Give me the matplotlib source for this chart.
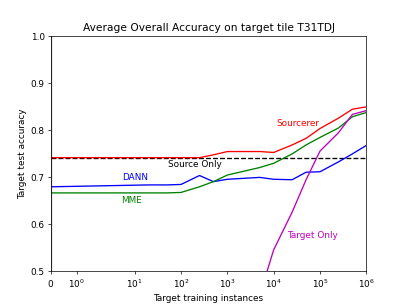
import matplotlib
matplotlib.use("Agg")
import matplotlib.pyplot as plt
import numpy as np

instances = [0, 20, 50, 100, 250, 500, 1000, 5000, 10000, 25000, 50000,
             100000, 250000, 500000, 1000000]
sourcerer = [0.742, 0.742, 0.742, 0.742, 0.742, 0.748, 0.755, 0.755, 0.753,
             0.769, 0.783, 0.804, 0.826, 0.845, 0.850]
dann = [0.680, 0.684, 0.684, 0.685, 0.704, 0.691, 0.696, 0.700, 0.696,
        0.695, 0.711, 0.712, 0.733, 0.750, 0.768]
mme = [0.667, 0.667, 0.667, 0.668, 0.680, 0.691, 0.705, 0.721, 0.730,
       0.750, 0.769, 0.785, 0.805, 0.829, 0.838]
target_x = [5000, 10000, 25000, 50000, 100000, 250000, 500000, 1000000]
target_only = [0.450, 0.546, 0.626, 0.695, 0.756, 0.795, 0.834, 0.842]
source_only = 0.742

fig, ax = plt.subplots(figsize=(6.4, 4.8), dpi=63.6)
ax.axvline(0, color='gray', lw=1.5)
ax.plot([0, 1000000], [source_only, source_only], 'k--', lw=1.5)
ax.plot(instances, sourcerer, color='r', lw=1.5)
ax.plot(instances, dann, color='b', lw=1.5)
ax.plot(instances, mme, color='g', lw=1.5)
ax.plot(target_x, target_only, color='m', lw=1.5)

ax.text(32600, 0.816, 'Sourcerer', color='r', ha='center', va='center', fontsize=10)
ax.text(196, 0.728, 'Source Only', color='k', ha='center', va='center', fontsize=10)
ax.text(10, 0.701, 'DANN', color='b', ha='center', va='center', fontsize=10)
ax.text(8.4, 0.651, 'MME', color='g', ha='center', va='center', fontsize=10)
ax.text(68600, 0.576, 'Target Only', color='m', ha='center', va='center', fontsize=10)

ax.set_xscale('symlog', linthresh=2, linscale=1)
ax.set_xlim(0, 1000000)
ax.set_ylim(0.5, 1.0)
ax.xaxis.set_minor_locator(matplotlib.ticker.NullLocator())
ax.set_xticks([0, 1, 10, 100, 1000, 10000, 100000, 1000000])
ax.set_xlabel('Target training instances')
ax.set_ylabel('Target test accuracy')
ax.set_title('Average Overall Accuracy on target tile T31TDJ')
fig.subplots_adjust(left=0.125, right=0.9, bottom=0.11, top=0.88)
fig.savefig('out.png', dpi=63.6)
